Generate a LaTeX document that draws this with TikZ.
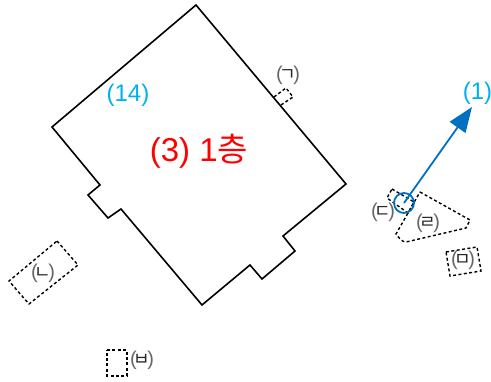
\documentclass[tikz,border=0pt]{standalone}
\usepackage{fontspec}
\setmainfont{Liberation Sans}
\newfontfamily\krfont{Noto Sans CJK KR}
\usetikzlibrary{arrows.meta}
\definecolor{arrowblue}{HTML}{0070C0}
\definecolor{skyblue}{HTML}{00B0F0}
\newcommand{\jamotext}[1]{\textcolor{black!60}{(}\kern-3pt{\fontsize{18}{18}\selectfont\krfont #1}\kern-3pt\textcolor{black!60}{)}}
\tikzset{
  wall/.style={draw=black,line width=1.6pt,line join=miter},
  aux/.style={draw=black,line width=1.4pt,dash pattern=on 3pt off 2.4pt},
  jamo/.style={inner sep=0pt,text=black!85,font=\fontsize{20}{20}\selectfont},
  bluelabel/.style={inner sep=0pt,text=skyblue,font=\fontsize{24}{24}\selectfont},
  redlabel/.style={inner sep=0pt,text=red,font=\fontsize{33}{33}\selectfont},
  lead/.style={draw=arrowblue,line width=1.8pt}
}
\begin{document}
\begin{tikzpicture}[x=1pt,y=-1pt]
\useasboundingbox (0,0) rectangle (491,382);
\draw[wall] (196,5) -- (346,184) -- (283,236) -- (295,251) -- (262,279) -- (250,265) -- (202,305) -- (121,209) -- (108,218) -- (88,195) -- (100,185) -- (52,127) -- cycle;
\draw[aux] (274,97) -- (286,88) -- (293,97) -- (281,105);
\draw[aux] (392,189) -- (414,202) -- (408,213) -- (387,198) -- cycle;
\draw[aux] (420,192) -- (470,220) -- (466,228) -- (406,242) .. controls (402,242) and (399,238) .. (396,234) -- cycle;
\draw[aux] (446,252) -- (477,247) -- (481,271) -- (450,276) -- cycle;
\draw[aux] (57,241) -- (78,265) -- (29,304) -- (9,281) -- cycle;
\draw[aux] (107,350) -- (127,350) -- (127,376) -- (107,376) -- cycle;
\node[draw=arrowblue,line width=1.8pt,circle,minimum size=20pt,inner sep=0pt] (ring) at (404,203) {};
\coordinate (ringc) at (404,203);
\coordinate (tip) at (472,107);
\draw[lead,-{Triangle[length=25pt,width=19pt]}] (ringc) -- (tip);
\node[bluelabel] (one) at (477.5,93) {(1)};
\node[bluelabel] (fourteen) at (128,95) {(14)};
\node[redlabel] (floor) at (199,151) {(3) 1{\krfont 층}};
\node[jamo] (ga) at (288,75) {\jamotext{ㄱ}};
\node[jamo] (na) at (43,273) {\jamotext{ㄴ}};
\node[jamo] (da) at (383,212) {\jamotext{ㄷ}};
\node[jamo] (ra) at (428,223) {\jamotext{ㄹ}};
\node[jamo] (ma) at (463,260) {\jamotext{ㅁ}};
\node[jamo] (ba) at (142,360) {\jamotext{ㅂ}};
\end{tikzpicture}
\end{document}
